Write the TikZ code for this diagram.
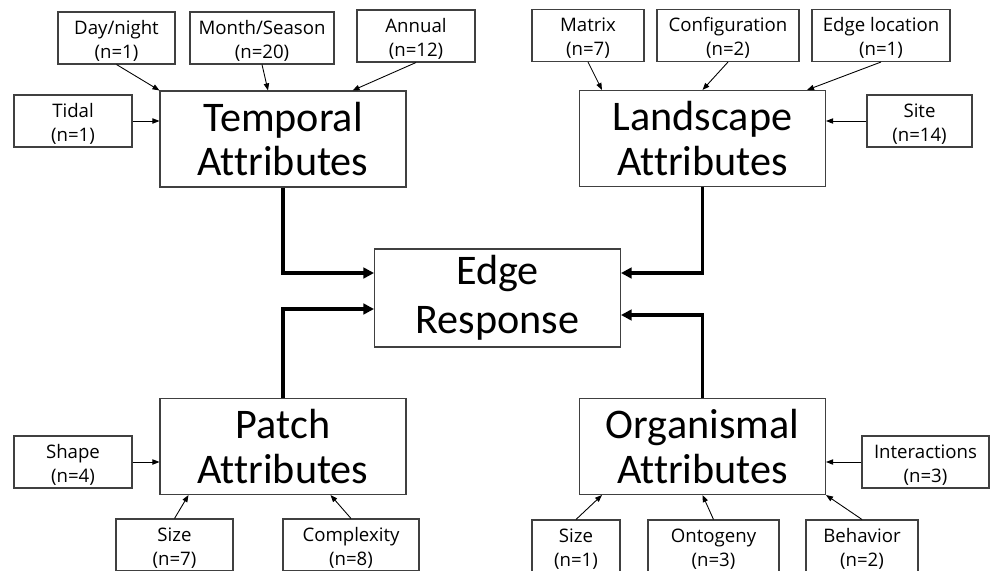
\documentclass[tikz,border=0pt]{standalone}
\usepackage{fontspec}
\setmainfont{Carlito}[Ligatures=CommonOff]
\newfontfamily\factorfont{Open Sans}
\usetikzlibrary{arrows.meta}
\newcommand\ftext[2]{\rule{0pt}{9.6pt}#1\\\smash{#2}}
\begin{document}
\begin{tikzpicture}[x=0.02cm,y=-0.02cm,
    attr/.style={draw=black!75,line width=.6pt,minimum width=4.92cm,minimum height=1.92cm,
      align=center,inner sep=0pt,font=\fontsize{24}{25.5}\selectfont},
    factor/.style={draw=black!75,line width=.6pt,minimum height=1.04cm,
      align=center,inner sep=0pt,font=\factorfont\fontsize{10.6}{13.6}\selectfont},
    feed/.style={line width=.5pt,-{Triangle[length=4pt,width=3pt]}},
    link/.style={line width=1.8pt,-{Triangle[length=6pt,width=6pt]}}]
  \useasboundingbox (0,0) rectangle (990,571);
  \clip (0,0) rectangle (990,571);
  % ------ main boxes ----------------
  \node [attr] (tmp) at (283,139) {Temporal\\Attributes};
  \node [attr] (lnd) at (702.5,138.5) {Landscape\\Attributes};
  \node [attr,minimum height=1.96cm,font=\fontsize{24}{28}\selectfont] (er) at (497.5,298)
    {Edge\\Response};
  \node [attr] (pat) at (283,446.5) {Patch\\Attributes};
  \node [attr] (org) at (702.5,446.5) {Organismal\\Attributes};
  % ------ temporal factors ----------------
  \node [factor,minimum width=2.34cm] (dn) at (116.5,38) {\ftext{Day/night}{(n=1)}};
  \node [factor,minimum width=2.88cm] (mon) at (262,38) {\ftext{Month/Season}{(n=20)}};
  \node [factor,minimum width=2.36cm] (ann) at (416,36) {\ftext{Annual}{(n=12)}};
  \node [factor,minimum width=2.36cm] (tid) at (73,121) {\ftext{Tidal}{(n=1)}};
  % ------ landscape factors ----------------
  \node [factor,minimum width=2.24cm] (mat) at (588,35.5) {\ftext{Matrix}{(n=7)}};
  \node [factor,minimum width=2.84cm] (cfg) at (728,35.5) {\ftext{Configuration}{(n=2)}};
  \node [factor,minimum width=2.76cm] (eloc) at (881,35.5) {\ftext{Edge location}{(n=1)}};
  \node [factor,minimum width=2.10cm] (site) at (919.5,121) {\ftext{Site}{(n=14)}};
  % ------ patch factors ----------------
  \node [factor,minimum width=2.36cm] (shp) at (73,462) {\ftext{Shape}{(n=4)}};
  \node [factor,minimum width=2.34cm] (szp) at (174.5,545) {\ftext{Size}{(n=7)}};
  \node [factor,minimum width=2.72cm] (cpx) at (351,545) {\ftext{Complexity}{(n=8)}};
  % ------ organismal factors ----------------
  \node [factor,minimum width=2.54cm] (int) at (925.5,462) {\ftext{Interactions}{(n=3)}};
  \node [factor,minimum width=1.76cm] (szo) at (576,546) {\ftext{Size}{(n=1)}};
  \node [factor,minimum width=2.62cm] (ont) at (713.5,546) {\ftext{Ontogeny}{(n=3)}};
  \node [factor,minimum width=2.24cm] (beh) at (862,546) {\ftext{Behavior}{(n=2)}};
  % ------ thin arrows ----------------
  \draw [feed] (dn.south) -- (tmp.north west);
  \draw [feed] (mon.south) -- ([xshift=-.3cm]tmp.north);
  \draw [feed] (ann.south) -- ([xshift=-1.08cm]tmp.north east);
  \draw [feed] (tid.east) -- (tid.east -| tmp.west);
  \draw [feed] (mat.south) -- ([xshift=.46cm]lnd.north west);
  \draw [feed] (cfg.south) -- (lnd.north);
  \draw [feed] (eloc.south) -- ([xshift=-.38cm]lnd.north east);
  \draw [feed] (site.west) -- (site.west -| lnd.east);
  \draw [feed] (shp.east) -- (shp.east -| pat.west);
  \draw [feed] (szp.north) -- ([xshift=.58cm]pat.south west);
  \draw [feed] (cpx.north) -- ([xshift=-1.52cm]pat.south east);
  \draw [feed] (int.west) -- (int.west -| org.east);
  \draw [feed] (szo.north) -- ([xshift=.46cm]org.south west);
  \draw [feed] (ont.north) -- (org.south);
  \draw [feed] (beh.north) -- (org.south east);
  % ------ thick arrows ----------------
  \draw [link] (tmp.south) |- ([yshift=.5cm]er.west);
  \draw [link] (lnd.south) |- ([yshift=.5cm]er.east);
  \draw [link] (pat.north) |- ([yshift=-.22cm]er.west);
  \draw [link] (org.north) |- ([yshift=-.34cm]er.east);
\end{tikzpicture}
\end{document}
